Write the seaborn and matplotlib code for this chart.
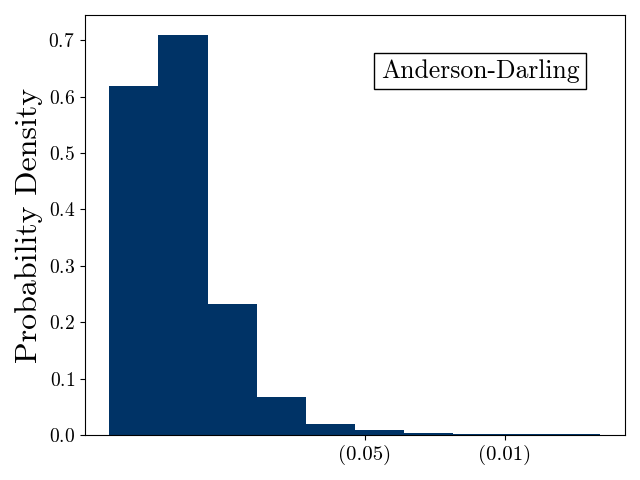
import numpy as np
import seaborn as sns
import matplotlib.pyplot as plt

# Histogram of the Anderson-Darling statistic (precomputed densities)
bin_edges = [0.0, 0.479, 0.958, 1.437, 1.916, 2.395, 2.874, 3.353, 3.832, 4.311, 4.79]
densities = [0.618, 0.709, 0.232, 0.067, 0.0195, 0.009, 0.0038, 0.0023, 0.0023, 0.0023]
crit_values = [2.492, 3.857]
crit_labels = ["(0.05)", "(0.01)"]

plt.rcParams['font.family'] = 'cmr10'
plt.rcParams['mathtext.fontset'] = 'cm'
plt.rcParams['axes.formatter.use_mathtext'] = True

centers = [(a + b) / 2 for a, b in zip(bin_edges[:-1], bin_edges[1:])]

fig, ax = plt.subplots(figsize=(6.4, 4.8), dpi=100)
sns.histplot(x=centers, weights=densities, bins=bin_edges, stat="count",
             color="#003366", alpha=1, linewidth=0, ax=ax)

ax.set_xticks(crit_values)
ax.set_xticklabels(crit_labels, fontsize=15)
ax.tick_params(axis='y', labelsize=14)
ax.set_ylabel("Probability Density", fontsize=23)
ax.set_xlabel("")

ax.text(0.732, 0.867, "Anderson-Darling", transform=ax.transAxes,
        ha='center', va='center', fontsize=18.5,
        bbox=dict(boxstyle='square,pad=0.25', facecolor='white', edgecolor='black'))

plt.tight_layout()
plt.savefig("out.png")
